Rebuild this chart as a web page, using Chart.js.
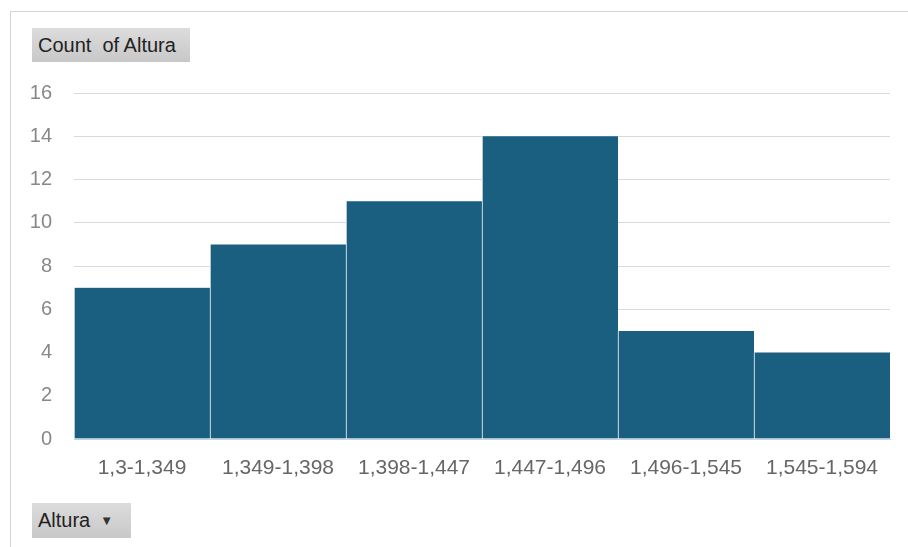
<!DOCTYPE html>
<html>
<head>
<meta charset="utf-8">
<script src="https://cdn.jsdelivr.net/npm/chart.js@4"></script>
<style>
  body { margin: 0; background: #fff; font-family: "Liberation Sans", Arial, sans-serif; }
  #wrap { position: relative; width: 908px; height: 547px; }
  #frame { position: absolute; left: 10px; top: 11px; right: 0; bottom: 0;
           border-left: 1px solid #d4d4d4; border-top: 1px solid #d4d4d4; }
  canvas { position: absolute; left: 0; top: 0; }
  .btn { position: absolute; background: linear-gradient(#dcdcdc, #c8c8c8);
         color: #222; font-size: 20px; line-height: 34px; padding: 0 6px; }
  .arrow { font-size: 13px; margin-left: 10px; vertical-align: 2px; color: #333; }
</style>
</head>
<body>
<div id="wrap">
  <div id="frame"></div>
  <canvas id="chart" width="908" height="547"></canvas>
  <div class="btn" style="left:32px;top:28px;width:146px;">Count&nbsp; of Altura</div>
  <div class="btn" style="left:32px;top:503px;width:87px;">Altura<span class="arrow">&#9660;</span></div>
</div>
<script>
const categories = ['1,3-1,349', '1,349-1,398', '1,398-1,447', '1,447-1,496', '1,496-1,545', '1,545-1,594'];
const counts = [7, 9, 11, 14, 5, 4];
const yTicks = [0, 2, 4, 6, 8, 10, 12, 14, 16];

const yFont = { family: '"Liberation Sans", Arial, sans-serif', size: 20 };
const xFont = { family: '"Liberation Sans", Arial, sans-serif', size: 21 };

new Chart(document.getElementById('chart'), {
  type: 'bar',
  data: {
    labels: categories,
    datasets: [{
      label: 'Count of Altura',
      data: counts,
      backgroundColor: '#1a5e80',
      borderColor: '#ffffff',
      borderWidth: { left: 1, right: 0, top: 0, bottom: 0 },
      borderSkipped: false,
      barPercentage: 1,
      categoryPercentage: 1
    }]
  },
  options: {
    responsive: false,
    animation: false,
    layout: { padding: { left: 0, right: 18, top: 93, bottom: 48 } },
    plugins: { legend: { display: false }, tooltip: { enabled: false } },
    scales: {
      x: {
        grid: { display: false },
        border: { display: true, color: '#bcd6e6' },
        ticks: { color: '#666', font: xFont, padding: 9, maxRotation: 0 },
        afterFit: s => { s.height = 60; }
      },
      y: {
        min: 0, max: 16,
        afterBuildTicks: s => { s.ticks = yTicks.map(v => ({ value: v })); },
        grid: { color: '#d9d9d9', drawTicks: false },
        border: { display: false },
        ticks: { color: '#888', font: yFont, padding: 22 },
        afterFit: s => { s.width = 74; }
      }
    }
  }
});
</script>
</body>
</html>
